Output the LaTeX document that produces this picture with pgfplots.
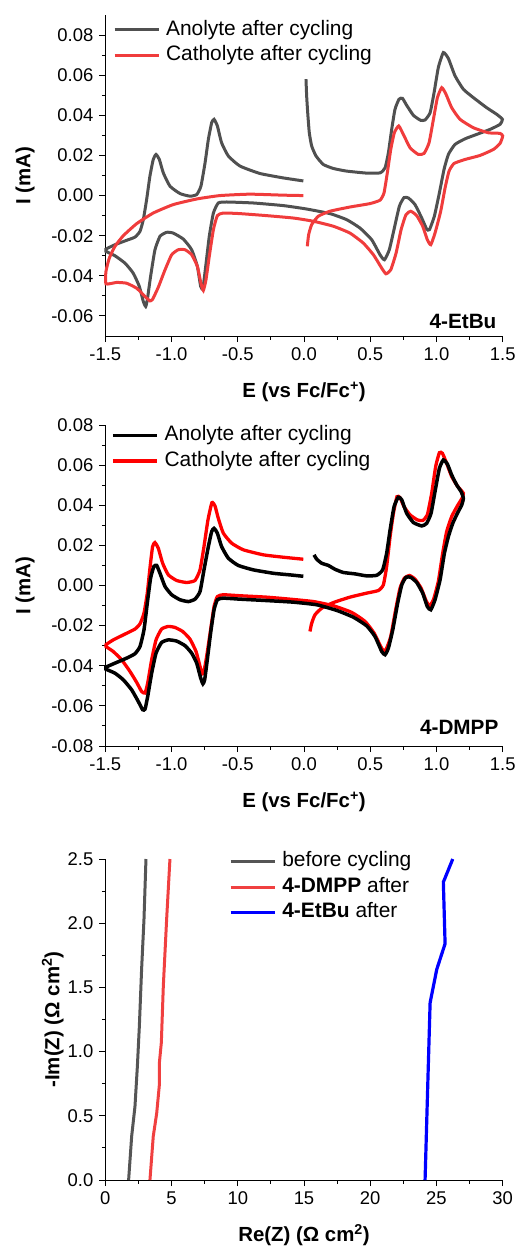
\documentclass[border=0pt]{standalone}
\usepackage{fontspec}
\setmainfont{Liberation Sans}
\usepackage{pgfplots}
\pgfplotsset{compat=1.18}

\definecolor{cvgray}{RGB}{80,80,80}
\definecolor{cvred}{RGB}{240,60,60}
\definecolor{eisgray}{RGB}{85,85,85}
\definecolor{eisred}{RGB}{240,64,64}
\definecolor{eisblue}{RGB}{0,0,255}

\pgfplotsset{
  myax/.style={
    scale only axis, width=397.4bp, height=321bp,
    anchor=south west, clip=false,
    axis x line*=bottom, axis y line*=left,
    tick align=outside, scaled ticks=false,
    major tick length=6bp, minor tick length=3.5bp,
    axis line style={line width=0.9bp, black},
    every tick/.style={line width=0.9bp, black},
    tick label style={font=\fontsize{18.5}{22}\selectfont},
    xticklabel style={yshift=-2.5bp},
    yticklabel style={xshift=-2.5bp},
    label style={font=\bfseries\fontsize{20.5}{24}\selectfont},
    /pgf/number format/assume math mode=true,
    legend style={draw=none, fill=none, inner sep=0pt, anchor=north west,
      font=\fontsize{21}{25}\selectfont, row sep=6bp, column sep=6bp,
      nodes={inner sep=0bp, text height=15bp, text depth=4.5bp}},
    legend cell align=left,
    legend image code/.code={\draw[#1] (0bp,0bp) -- (44bp,0bp);},
  },
  cvax/.style={myax,
    xmin=-1.5, xmax=1.5, xtick={-1.5,-1,...,1.5}, minor x tick num=1,
    xticklabel style={/pgf/number format/fixed, /pgf/number format/fixed zerofill, /pgf/number format/precision=1},
    yticklabel style={/pgf/number format/fixed, /pgf/number format/fixed zerofill, /pgf/number format/precision=2},
    minor y tick num=1,
    xlabel={E (vs Fc/Fc\textsuperscript{+})}, ylabel={I (mA)},
    xlabel style={at={(axis description cs:0.5,-0.174)}, anchor=center},
    ylabel style={at={(axis description cs:-0.202,0.5)}, anchor=center},
  },
}

\begin{document}
\begin{tikzpicture}
\path[use as bounding box] (0,0) rectangle (518bp,-1248bp);

% ---- panel 1: 4-EtBu
\begin{axis}[cvax, at={(105.3bp,-336bp)},
  ymin=-0.07, ymax=0.09, ytick={-0.06,-0.04,...,0.081},
  legend style={at={(axis description cs:0.019,0.985)}}]
\addplot[cvgray, line width=3bp, smooth, tension=0.3] coordinates {
(0.015,0.058) (0.020,0.0497) (0.028,0.0413) (0.040,0.0313) (0.058,0.0247) (0.091,0.0197)
(0.146,0.0155) (0.222,0.0135) (0.322,0.0122) (0.473,0.0112) (0.574,0.0113) (0.612,0.0138)
(0.637,0.0213) (0.662,0.033) (0.687,0.043) (0.717,0.048) (0.743,0.0485) (0.775,0.045)
(0.826,0.040) (0.881,0.0375) (0.914,0.0377) (0.952,0.0413) (0.982,0.0513) (1.014,0.0638)
(1.052,0.0713) (1.090,0.0683) (1.140,0.0597) (1.203,0.053) (1.279,0.0488) (1.379,0.0438)
(1.455,0.0405) (1.498,0.038)
(1.480,0.0355) (1.405,0.033) (1.304,0.0305) (1.216,0.0283) (1.140,0.0255) (1.090,0.0205)
(1.057,0.013) (1.022,0.0013) (0.984,-0.0103) (0.947,-0.017) (0.926,-0.0167) (0.889,-0.0112)
(0.838,-0.0045) (0.788,-0.0012) (0.755,-0.001) (0.720,-0.0053) (0.682,-0.0162) (0.644,-0.027)
(0.607,-0.032) (0.574,-0.0295) (0.511,-0.022) (0.423,-0.0162) (0.322,-0.012) (0.196,-0.009)
(0.020,-0.0067) (-0.156,-0.005) (-0.382,-0.0037) (-0.584,-0.0032) (-0.647,-0.0037)
(-0.684,-0.0087) (-0.715,-0.0203) (-0.742,-0.0353) (-0.763,-0.0462) (-0.780,-0.0453)
(-0.805,-0.0353) (-0.848,-0.027) (-0.911,-0.0217) (-0.987,-0.0187) (-1.037,-0.0183)
(-1.087,-0.0203) (-1.125,-0.027) (-1.158,-0.0403) (-1.183,-0.052) (-1.195,-0.0553)
(-1.213,-0.0528) (-1.243,-0.0453) (-1.289,-0.0387) (-1.351,-0.0337) (-1.427,-0.030) (-1.495,-0.0278)
(-1.495,-0.0267) (-1.427,-0.0245) (-1.339,-0.0223) (-1.276,-0.0207) (-1.238,-0.0178)
(-1.213,-0.012) (-1.188,-0.002) (-1.163,0.0097) (-1.138,0.018) (-1.117,0.0205) (-1.092,0.018)
(-1.062,0.0113) (-1.012,0.0047) (-0.936,0.001) (-0.861,-0.0003) (-0.810,0.0005) (-0.778,0.0047)
(-0.747,0.0163) (-0.722,0.028) (-0.697,0.0363) (-0.679,0.038) (-0.654,0.0347) (-0.622,0.0263)
(-0.571,0.0197) (-0.483,0.0147) (-0.332,0.011) (-0.156,0.0088) (-0.005,0.0073)
};
\addlegendentry{Anolyte after cycling}
\addplot[cvred, line width=3bp, smooth, tension=0.3] coordinates {
(0.025,-0.0253) (0.035,-0.0195) (0.058,-0.0145) (0.108,-0.0103) (0.196,-0.0078) (0.347,-0.0057)
(0.498,-0.004) (0.574,-0.0023) (0.604,0.0013) (0.629,0.0113) (0.655,0.023) (0.682,0.0313)
(0.715,0.0347) (0.750,0.0305) (0.801,0.0238) (0.863,0.0205) (0.906,0.021) (0.944,0.0263)
(0.977,0.038) (1.007,0.0488) (1.040,0.0538) (1.072,0.0505) (1.115,0.0438) (1.178,0.038)
(1.279,0.0338) (1.392,0.0313) (1.480,0.031) (1.500,0.0297)
(1.480,0.026) (1.430,0.023) (1.329,0.020) (1.216,0.018) (1.133,0.016) (1.095,0.0122)
(1.065,0.0038) (1.032,-0.0078) (0.989,-0.0187) (0.957,-0.0245) (0.931,-0.022) (0.896,-0.0153)
(0.851,-0.010) (0.806,-0.0078) (0.770,-0.0095) (0.733,-0.017) (0.695,-0.0287) (0.655,-0.037)
(0.619,-0.039) (0.587,-0.0362) (0.524,-0.0295) (0.448,-0.0237) (0.347,-0.0187) (0.222,-0.0153)
(0.071,-0.0128) (-0.080,-0.0112) (-0.282,-0.010) (-0.483,-0.009) (-0.609,-0.0087)
(-0.654,-0.010) (-0.684,-0.017) (-0.715,-0.0303) (-0.740,-0.042) (-0.760,-0.0473)
(-0.778,-0.0437) (-0.805,-0.0353) (-0.848,-0.0295) (-0.898,-0.027) (-0.949,-0.027)
(-0.999,-0.0295) (-1.049,-0.037) (-1.100,-0.0457) (-1.143,-0.0517) (-1.163,-0.0525)
(-1.200,-0.0503) (-1.263,-0.0462) (-1.339,-0.0437) (-1.414,-0.0433) (-1.495,-0.044)
(-1.495,-0.0378) (-1.470,-0.0312) (-1.427,-0.0253) (-1.364,-0.020) (-1.263,-0.014)
(-1.138,-0.0087) (-0.987,-0.0045) (-0.810,-0.0017) (-0.634,0.0) (-0.408,0.0007)
(-0.156,0.0002) (-0.005,0.0)
};
\addlegendentry{Catholyte after cycling}
\node[anchor=east, font=\bfseries\fontsize{20.8}{24}\selectfont] at (axis description cs:0.993,0.044) {4-EtBu};
\end{axis}

% ---- panel 2: 4-DMPP
\begin{axis}[cvax, at={(105.3bp,-746bp)},
  ymin=-0.08, ymax=0.08, ytick={-0.08,-0.06,...,0.081},
  legend style={at={(axis description cs:0.014,0.998)}}]
\addlegendimage{black, line width=3.5bp}
\addlegendentry{Anolyte after cycling}
\addlegendimage{red, line width=3.5bp}
\addlegendentry{Catholyte after cycling}
\addplot[red, line width=3.3bp, smooth, tension=0.3, forget plot] coordinates {
(0.045,-0.0229) (0.058,-0.0188) (0.083,-0.0146) (0.134,-0.0113) (0.222,-0.0085) (0.347,-0.0058)
(0.473,-0.0038) (0.561,-0.0025) (0.599,0.0003) (0.624,0.0095) (0.650,0.0244) (0.675,0.036)
(0.702,0.0443) (0.725,0.0438) (0.755,0.0393) (0.801,0.0352) (0.856,0.0327) (0.896,0.0324)
(0.931,0.0352) (0.964,0.046) (0.994,0.0593) (1.022,0.0662) (1.045,0.0659) (1.077,0.0609)
(1.115,0.0543) (1.158,0.0496) (1.203,0.046)
(1.193,0.0435) (1.158,0.0397) (1.115,0.0344) (1.077,0.0269) (1.047,0.0161) (1.014,0.002)
(0.977,-0.0071) (0.947,-0.0101) (0.921,-0.0075) (0.884,-0.0013) (0.838,0.0032) (0.796,0.005)
(0.758,0.0037) (0.725,-0.0013) (0.692,-0.0121) (0.655,-0.0254) (0.624,-0.0312) (0.604,-0.0329)
(0.579,-0.0304) (0.529,-0.0237) (0.461,-0.0179) (0.360,-0.0134) (0.222,-0.0101) (0.071,-0.008)
(-0.106,-0.0068) (-0.282,-0.0058) (-0.483,-0.0051) (-0.609,-0.0046) (-0.654,-0.0055)
(-0.679,-0.0105) (-0.705,-0.0221) (-0.735,-0.0354) (-0.755,-0.0428) (-0.768,-0.044)
(-0.785,-0.0403) (-0.815,-0.0329) (-0.861,-0.0267) (-0.916,-0.0229) (-0.974,-0.0209)
(-1.024,-0.0204) (-1.075,-0.0217) (-1.117,-0.0271) (-1.150,-0.037) (-1.180,-0.0486)
(-1.200,-0.0536) (-1.226,-0.0528) (-1.263,-0.0483) (-1.314,-0.0428) (-1.377,-0.037)
(-1.440,-0.0329) (-1.495,-0.0304)
(-1.495,-0.0295) (-1.440,-0.0271) (-1.351,-0.0242) (-1.276,-0.0217) (-1.238,-0.0191)
(-1.208,-0.0138) (-1.183,-0.0038) (-1.163,0.0086) (-1.143,0.0194) (-1.125,0.0214) (-1.100,0.0186)
(-1.067,0.0111) (-1.024,0.0053) (-0.961,0.0025) (-0.886,0.0015) (-0.823,0.0025) (-0.785,0.0078)
(-0.755,0.0194) (-0.725,0.0327) (-0.695,0.0413) (-0.672,0.0397) (-0.647,0.0335) (-0.609,0.0261)
(-0.546,0.0211) (-0.458,0.0178) (-0.307,0.0153) (-0.156,0.0141) (-0.005,0.0131)
};
\addplot[black, line width=3.5bp, smooth, tension=0.3, forget plot] coordinates {
(0.076,0.0153) (0.096,0.0131) (0.134,0.0111) (0.184,0.010) (0.234,0.0081) (0.297,0.0065)
(0.385,0.0058) (0.473,0.0048) (0.549,0.0051) (0.594,0.0078) (0.624,0.0161) (0.650,0.0277)
(0.680,0.0393) (0.712,0.044) (0.738,0.0427) (0.775,0.036) (0.826,0.0314) (0.889,0.0297)
(0.926,0.031) (0.959,0.036) (0.989,0.0468) (1.022,0.0584) (1.052,0.0626) (1.082,0.0606)
(1.115,0.0551) (1.153,0.0501) (1.186,0.0468) (1.203,0.0435)
(1.191,0.0402) (1.158,0.036) (1.123,0.031) (1.090,0.0244) (1.060,0.0161) (1.027,0.0028)
(0.989,-0.0071) (0.957,-0.0121) (0.931,-0.0105) (0.896,-0.0038) (0.851,0.0015) (0.806,0.0041)
(0.770,0.0041) (0.738,0.0003) (0.707,-0.0088) (0.670,-0.0221) (0.637,-0.0312) (0.612,-0.0345)
(0.587,-0.0329) (0.536,-0.0254) (0.473,-0.0201) (0.373,-0.0158) (0.247,-0.0124) (0.096,-0.0096)
(-0.080,-0.0083) (-0.282,-0.0075) (-0.483,-0.0068) (-0.609,-0.0063) (-0.654,-0.0071)
(-0.679,-0.0121) (-0.705,-0.0237) (-0.730,-0.037) (-0.750,-0.047) (-0.763,-0.049)
(-0.780,-0.0461) (-0.810,-0.0387) (-0.848,-0.0337) (-0.898,-0.030) (-0.961,-0.0277)
(-1.024,-0.0271) (-1.075,-0.0284) (-1.117,-0.0337) (-1.150,-0.0437) (-1.180,-0.0553)
(-1.200,-0.0616) (-1.218,-0.0619) (-1.251,-0.0578) (-1.301,-0.052) (-1.364,-0.047)
(-1.427,-0.0437) (-1.495,-0.0417)
(-1.495,-0.0407) (-1.427,-0.0387) (-1.339,-0.0362) (-1.276,-0.034) (-1.238,-0.0304)
(-1.208,-0.0221) (-1.183,-0.0088) (-1.158,0.0037) (-1.133,0.0095) (-1.112,0.010) (-1.087,0.0061)
(-1.049,-0.0005) (-0.999,-0.0046) (-0.936,-0.0071) (-0.873,-0.008) (-0.823,-0.0068)
(-0.785,-0.003) (-0.755,0.0078) (-0.722,0.0194) (-0.697,0.0269) (-0.679,0.0285) (-0.654,0.0261)
(-0.622,0.0194) (-0.571,0.0136) (-0.496,0.010) (-0.382,0.0078) (-0.231,0.0061) (-0.106,0.0053)
(-0.005,0.0046)
};
\node[anchor=east, font=\bfseries\fontsize{20.8}{24}\selectfont] at (axis description cs:0.998,0.059) {4-DMPP};
\end{axis}

% ---- panel 3: impedance
\begin{axis}[myax, at={(105.3bp,-1180bp)},
  xmin=0, xmax=30, xtick={0,5,...,30}, minor x tick num=1,
  ymin=0, ymax=2.5, ytick={0,0.5,...,2.5}, minor y tick num=1,
  yticklabel style={/pgf/number format/fixed, /pgf/number format/fixed zerofill, /pgf/number format/precision=1},
  xlabel={Re(Z) (Ω cm\textsuperscript{2})},
  xlabel style={at={(axis description cs:0.5,-0.171)}, anchor=center},
  legend style={at={(axis description cs:0.311,1.023)}}]
\addplot[eisgray, line width=3bp] coordinates {
(1.76,0) (1.99,0.34) (2.24,0.573) (2.42,0.884) (2.57,1.196) (2.74,1.64) (2.92,2.03) (3.07,2.5)
};
\addlegendentry{before cycling}
\addplot[eisred, line width=3bp] coordinates {
(3.37,0) (3.62,0.34) (3.88,0.52) (4.08,0.74) (4.08,0.91) (4.23,1.07) (4.38,1.51) (4.63,2.03) (4.88,2.5)
};
\addlegendentry{\textbf{4-DMPP} after}
\addplot[eisblue, line width=3.2bp] coordinates {
(24.14,0) (24.34,0.73) (24.52,1.38) (25.02,1.64) (25.65,1.84) (25.52,2.32) (26.23,2.5)
};
\addlegendentry{\textbf{4-EtBu} after}
\node[rotate=90, anchor=center, font=\bfseries\fontsize{20.5}{24}\selectfont]
  at (axis description cs:-0.132,0.5) {-Im(Z) (Ω cm\textsuperscript{2})};
\end{axis}
\end{tikzpicture}
\end{document}
